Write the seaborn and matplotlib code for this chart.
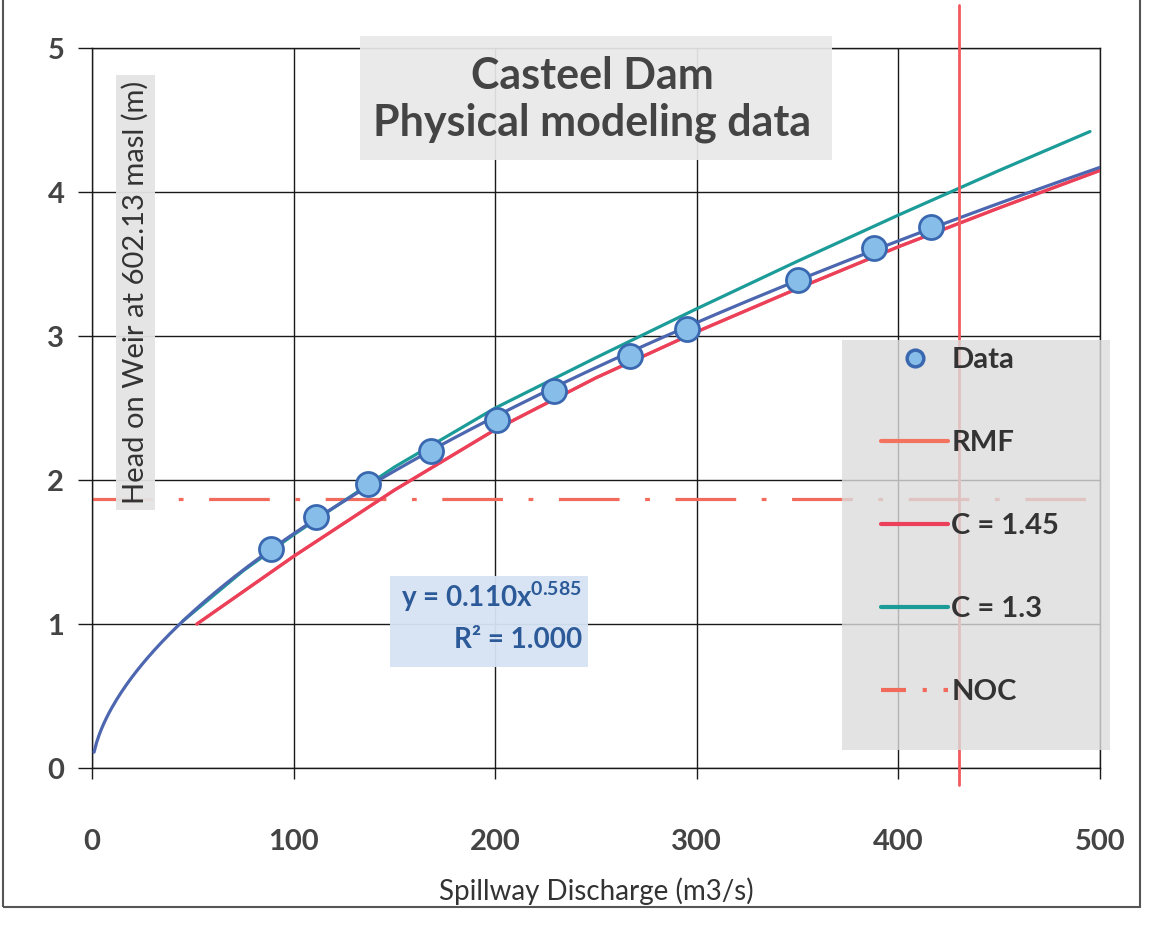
import numpy as np
import pandas as pd
import matplotlib
matplotlib.use("Agg")
import matplotlib.pyplot as plt
import seaborn as sns
from matplotlib.patches import Rectangle
from matplotlib.lines import Line2D

# ---------------- data ----------------
data_q = [89, 111, 137, 168, 201, 229, 267, 295, 350, 388, 416]
data_h = [1.52, 1.74, 1.97, 2.20, 2.42, 2.62, 2.86, 3.05, 3.39, 3.61, 3.76]

c145_q = [52, 100, 150, 200, 250, 300, 350, 400, 450, 500]
c145_h = [1.00, 1.47, 1.93, 2.35, 2.71, 3.03, 3.33, 3.62, 3.89, 4.15]

rmf_q = [52, 100, 150, 200, 250, 300, 350, 400, 450, 500]
rmf_h = [1.00, 1.47, 1.93, 2.35, 2.71, 3.03, 3.33, 3.62, 3.89, 4.15]

c13_q = [45, 75, 100, 150, 200, 250, 300, 350, 400, 450, 495]
c13_h = [1.02, 1.37, 1.62, 2.09, 2.50, 2.85, 3.19, 3.52, 3.84, 4.15, 4.42]

noc_q = [0, 500]
noc_h = [1.87, 1.87]

rmf_vline_q = 430

trend_a = 0.110
trend_b = 0.585

x_ticks = [0, 100, 200, 300, 400, 500]
y_ticks = [0, 1, 2, 3, 4, 5]

title_text = "Casteel Dam\nPhysical modeling data"
xlabel_text = "Spillway Discharge (m3/s)"
ylabel_text = "Head on Weir at 602.13 masl (m)"
eq_line1 = r"y = 0.110x$^{0.585}$"
eq_line2 = "R² = 1.000"

# ---------------- style ----------------
sns.set_theme(style="whitegrid")
plt.rcParams["font.family"] = ["Lato", "DejaVu Sans"]
plt.rcParams["mathtext.fontset"] = "custom"
plt.rcParams["mathtext.rm"] = "Lato:bold"
plt.rcParams["mathtext.it"] = "Lato:bold"
plt.rcParams["mathtext.bf"] = "Lato:bold"

fig = plt.figure(figsize=(11.62, 9.27), dpi=100)
fig.patch.set_facecolor("white")
ax = fig.add_axes([0.0792, 0.1715, 0.8675, 0.7767])
ax.set_facecolor("white")

# trendline (power fit printed on the chart)
tq = np.linspace(1, 500, 400)
trend_df = pd.DataFrame({"q": tq, "h": trend_a * tq ** trend_b})

df_data = pd.DataFrame({"q": data_q, "h": data_h})
df_rmf = pd.DataFrame({"q": rmf_q, "h": rmf_h})
df_145 = pd.DataFrame({"q": c145_q, "h": c145_h})
df_13 = pd.DataFrame({"q": c13_q, "h": c13_h})
df_noc = pd.DataFrame({"q": noc_q, "h": noc_h})

lw = 2.3
sns.lineplot(data=df_noc, x="q", y="h", ax=ax, color="#f26a5c", lw=lw,
             linestyle=(0, (19, 8, 1.5, 8)), label="NOC", zorder=2)
sns.lineplot(data=df_rmf, x="q", y="h", ax=ax, color="#f4735f", lw=lw,
             label="RMF", zorder=3, sort=False, estimator=None)
sns.lineplot(data=df_145, x="q", y="h", ax=ax, color="#ec3f5a", lw=lw,
             label="C = 1.45", zorder=4, sort=False, estimator=None)
sns.lineplot(data=df_13, x="q", y="h", ax=ax, color="#1c9c98", lw=lw,
             label="C = 1.3", zorder=4, sort=False, estimator=None)
sns.lineplot(data=trend_df, x="q", y="h", ax=ax, color="#4d66b0", lw=lw,
             label="_nolegend_", zorder=5, sort=False, estimator=None)
sns.scatterplot(data=df_data, x="q", y="h", ax=ax, s=300, color="#86bde9",
                edgecolor="#3a68b0", linewidth=2.0, label="Data", zorder=6)

ax.plot([rmf_vline_q, rmf_vline_q], [-0.12, 5.3], color="#f25a5e", lw=2.0,
        zorder=7, clip_on=False)

ax.set_xlim(0, 500)
ax.set_ylim(0, 5)
ax.set_xticks(x_ticks)
ax.set_yticks(y_ticks)
ax.grid(True, color="#1a1a1a", lw=1.0)
for s in ax.spines.values():
    s.set_visible(True)
    s.set_color("#1a1a1a")
    s.set_linewidth(1.0)
ax.tick_params(axis="x", which="both", direction="out", length=8, width=1,
               color="#1a1a1a", pad=36, labelsize=21, labelcolor="#444444")
ax.tick_params(axis="y", which="both", direction="out", length=10, width=1,
               color="#1a1a1a", pad=10, labelsize=21, labelcolor="#444444")
ax.tick_params(bottom=True, left=True)
for lab in ax.get_xticklabels() + ax.get_yticklabels():
    lab.set_fontweight("bold")

ax.set_xlabel(xlabel_text, fontsize=20, color="#333333", labelpad=16)
ax.set_ylabel("")

# y label drawn inside the plot with grey box
ax.text(0.043, 0.661, ylabel_text, transform=ax.transAxes, rotation=90,
        ha="center", va="center", fontsize=21, color="#333333", zorder=9,
        bbox=dict(boxstyle="square,pad=0.2", facecolor="#e4e4e4",
                  edgecolor="none", alpha=0.95))

# title box
ax.add_patch(Rectangle((133, 4.22), 234, 0.86, facecolor="#e9e9e9",
                       edgecolor="none", alpha=0.92, zorder=8, clip_on=False))
ax.text(248, 4.64, title_text, ha="center", va="center", fontsize=31,
        fontweight="bold", color="#444444", linespacing=1.2, zorder=9)

# equation box
ax.add_patch(Rectangle((148, 0.70), 98, 0.63, facecolor="#d6e3f4",
                       edgecolor="none", alpha=0.95, zorder=8))
ax.text(243, 1.19, eq_line1, ha="right", va="center", fontsize=20,
        fontweight="bold", color="#2c5a98", zorder=9)
ax.text(243, 0.89, eq_line2, ha="right", va="center", fontsize=20,
        fontweight="bold", color="#2c5a98", zorder=9)

# legend box
ax.add_patch(Rectangle((0.744, 0.025), 0.266, 0.569, transform=ax.transAxes,
                       facecolor="#dcdcdc", edgecolor="none", alpha=0.8,
                       zorder=10, clip_on=False))
order = ["Data", "RMF", "C = 1.45", "C = 1.3", "NOC"]
leg_handles = [
    Line2D([], [], marker="o", linestyle="none", markersize=12,
           markerfacecolor="#86bde9", markeredgecolor="#3a68b0",
           markeredgewidth=2.5),
    Line2D([], [], color="#f4735f", lw=3),
    Line2D([], [], color="#ec3f5a", lw=3),
    Line2D([], [], color="#1c9c98", lw=3),
    Line2D([], [], color="#f26a5c", lw=3, linestyle=(0, (6, 4, 1, 4))),
]
leg = ax.legend(leg_handles, order, loc="upper left",
                bbox_to_anchor=(0.783, 0.585), frameon=False, fontsize=21,
                handlelength=2.3, handletextpad=0.1, labelspacing=1.96,
                borderpad=0, borderaxespad=0)
leg.set_zorder(11)
for t in leg.get_texts():
    t.set_fontweight("bold")
    t.set_color("#333333")

# scanned chart frame
fig.add_artist(Rectangle((0.003, 0.022), 0.978, 0.99, transform=fig.transFigure,
                         facecolor="none", edgecolor="#555555", lw=1.5))

fig.savefig("out.png", dpi=100)
